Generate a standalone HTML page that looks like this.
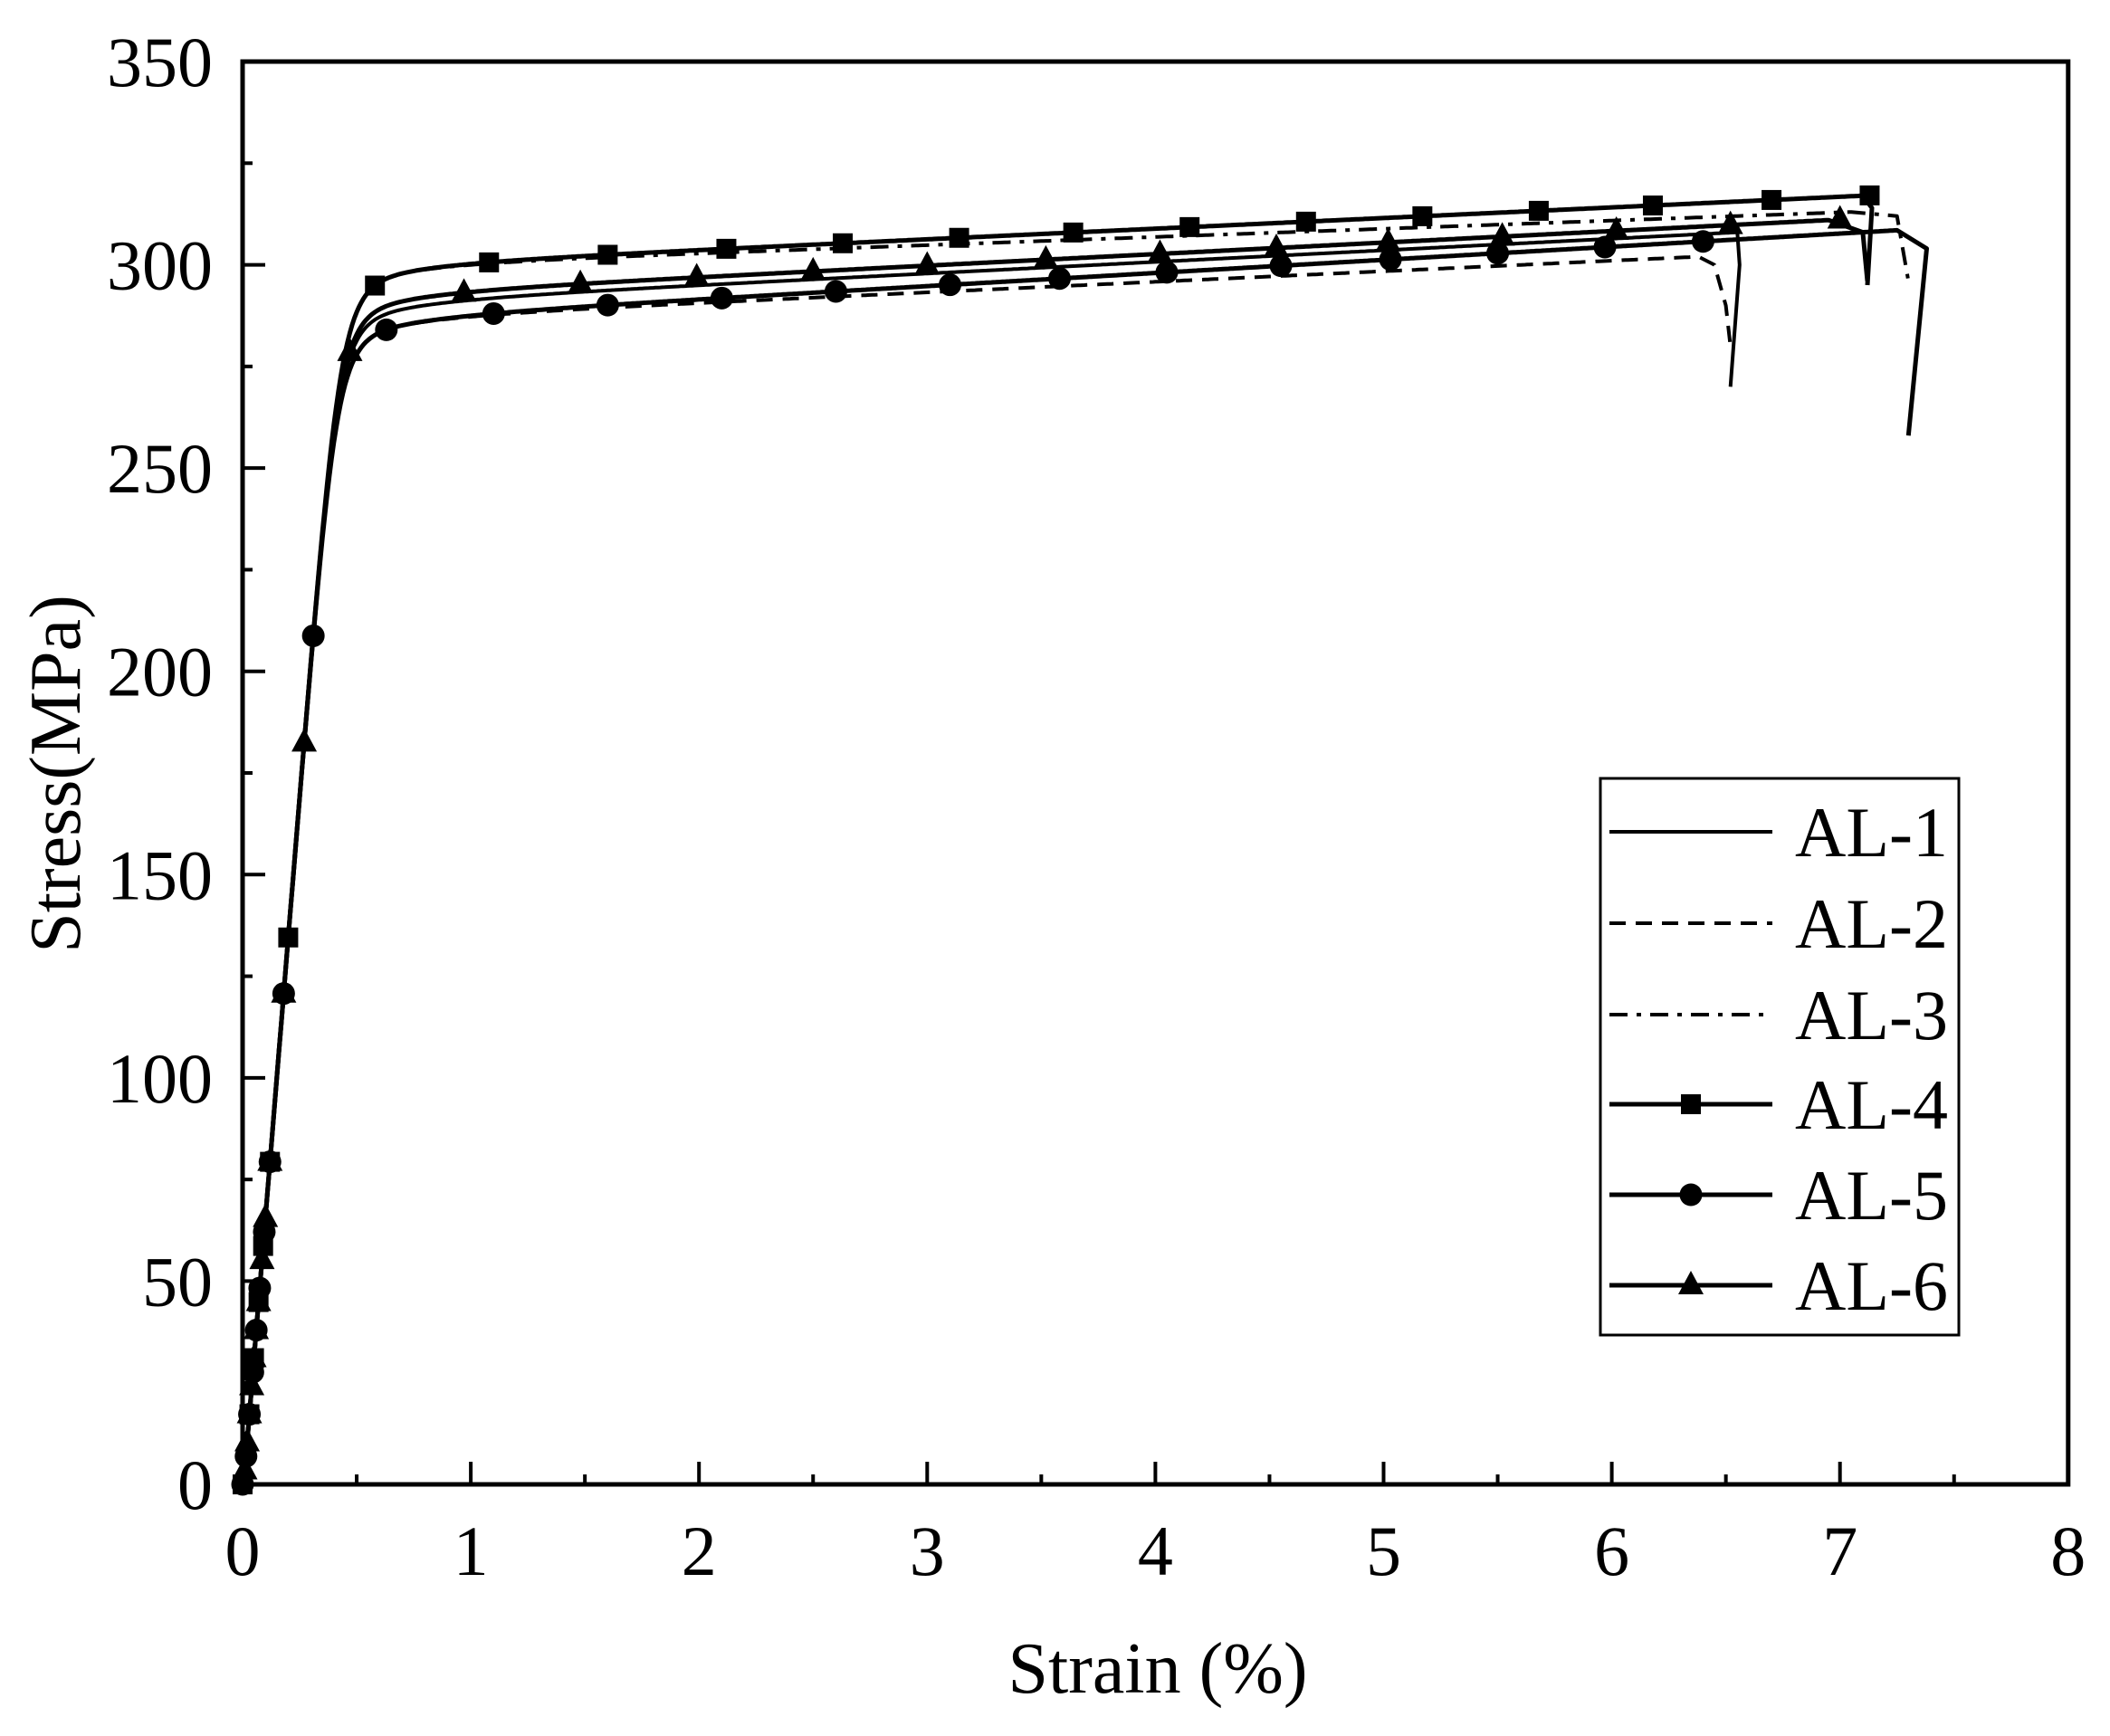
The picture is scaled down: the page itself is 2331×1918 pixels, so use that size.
<!DOCTYPE html>
<html><head><meta charset="utf-8">
<style>
html,body{margin:0;padding:0;background:#fff;}
svg{display:block;}
text{font-family:"Liberation Serif",serif;fill:#000;}
</style></head>
<body>
<svg id="s" width="2331" height="1918" xmlns="http://www.w3.org/2000/svg">
<rect width="2331" height="1918" fill="#fff"/>
<g id="plot"></g>
<g id="axes"></g>
</svg>
<script>
const NS="http://www.w3.org/2000/svg";
const X=e=>268+252.1*e, Y=s=>1640-4.4914*s;
const plot=document.getElementById('plot'), axes=document.getElementById('axes');
function el(tag,attrs,parent,txt){const n=document.createElementNS(NS,tag);for(const k in attrs)n.setAttribute(k,attrs[k]);if(txt!==undefined)n.textContent=txt;(parent||plot).appendChild(n);return n;}
// axes
el('rect',{x:X(0),y:Y(350),width:X(8)-X(0),height:Y(0)-Y(350),fill:'none',stroke:'#000','stroke-width':5},axes);
for(let i=0;i<=16;i++){const x=X(i*0.5),L=i%2?11:25;el('line',{x1:x,y1:Y(0),x2:x,y2:Y(0)-L,stroke:'#000','stroke-width':4},axes);
 if(i%2==0)el('text',{x:x,y:1740,'font-size':78,'text-anchor':'middle'},axes,String(i/2));}
for(let i=0;i<=14;i++){const y=Y(i*25),L=i%2?11:25;el('line',{x1:X(0),y1:y,x2:X(0)+L,y2:y,stroke:'#000','stroke-width':4},axes);
 if(i%2==0)el('text',{x:235,y:y+27,'font-size':78,'text-anchor':'end'},axes,String(i*25));}
el('text',{x:1279,y:1870,'font-size':80,'text-anchor':'middle'},axes,'Strain (%)');
el('text',{x:0,y:0,'font-size':80,'text-anchor':'middle',transform:'translate(88,855) rotate(-90)'},axes,'Stress(MPa)');
// curves
function stress(e,P0,P1,eEnd){const P=P0+(P1-P0)*(e-0.6)/(eEnd-0.6)-6*Math.exp(-(e-0.3)/0.35);const E=690;const x=E*Math.max(e-0.005,0)/P;const n=9;return P*x/Math.pow(1+Math.pow(x,n),1/n);}
const series=[
 {P0:291,P1:308,end:6.55,tail:[[6.56,300],[6.52,270]],dash:'',w:4},
 {P0:287,P1:302,end:6.38,tail:[[6.45,300],[6.5,290],[6.52,280]],dash:'18,11',w:4},
 {P0:300,P1:313,end:7.05,tail:[[7.25,312],[7.3,296]],dash:'20,10,5,10',w:4},
 {P0:300,P1:317,end:7.1,tail:[[7.14,314],[7.12,295]],dash:'',w:5,m:'sq',mk:[0.58,1.08,1.6,2.12,2.63,3.14,3.64,4.15,4.66,5.17,5.68,6.18,6.7,7.13]},
 {P0:287,P1:308.5,end:7.25,tail:[[7.38,304],[7.3,258]],dash:'',w:5,m:'ci',mk:[0.63,1.1,1.6,2.1,2.6,3.1,3.58,4.05,4.55,5.03,5.5,5.97,6.4]},
 {P0:293,P1:311,end:6.95,tail:[[7.1,308],[7.12,296]],dash:'',w:5,m:'tr',mk:[0.47,0.97,1.48,1.99,2.5,3.0,3.52,4.02,4.53,5.02,5.52,6.02,6.52,7.0]}
];
const elasticMk={sq:[0.2,0.12,0.09,0.07,0.05,0.03,0],ci:[0.31,0.18,0.12,0.095,0.075,0.06,0.045,0.03,0.015,0],tr:[0.27,0.18,0.12,0.1,0.085,0.07,0.06,0.05,0.04,0.03,0.02,0.01]};
function marker(t,x,y,p){
 p=p||plot;
 if(t=='sq')el('rect',{x:x-11,y:y-11,width:22,height:22,fill:'#000'},p);
 else if(t=='ci')el('circle',{cx:x,cy:y,r:12.5,fill:'#000'},p);
 else el('polygon',{points:`${x},${y-16} ${x-14},${y+10} ${x+14},${y+10}`,fill:'#000'},p);
}
series.forEach(s=>{
 let d='';const f=e=>stress(e,s.P0,s.P1,s.end);
 for(let e=0;e<=s.end;e+=0.01){d+=(d?'L':'M')+X(e).toFixed(1)+','+Y(f(e)).toFixed(1);}
 s.tail.forEach(p=>{d+='L'+X(p[0]).toFixed(1)+','+Y(p[1]).toFixed(1);});
 const a={d:d,fill:'none',stroke:'#000','stroke-width':s.w,'stroke-linejoin':'round'};if(s.dash)a['stroke-dasharray']=s.dash;
 el('path',a);
 if(s.m){s.mk.forEach(e=>marker(s.m,X(e),Y(f(e))));elasticMk[s.m].forEach(e=>marker(s.m,X(e),Y(f(e))));}
});
// legend
el('rect',{x:1768,y:860,width:396,height:615,fill:'#fff',stroke:'#000','stroke-width':3},axes);
const leg=[['',0],['18,11',0],['20,10,5,10',0],['','sq'],['','ci'],['','tr']];
const ly=[919,1020,1121,1220,1320,1420];
leg.forEach((l,i)=>{const a={x1:1778,y1:ly[i],x2:1958,y2:ly[i],stroke:'#000','stroke-width':l[1]?5:4};if(l[0])a['stroke-dasharray']=l[0];el('line',a,axes);
 if(l[1])marker(l[1],1868,ly[i],axes);
 el('text',{x:1983,y:ly[i]+27,'font-size':78},axes,'AL-'+(i+1));});
</script>
</body></html>
